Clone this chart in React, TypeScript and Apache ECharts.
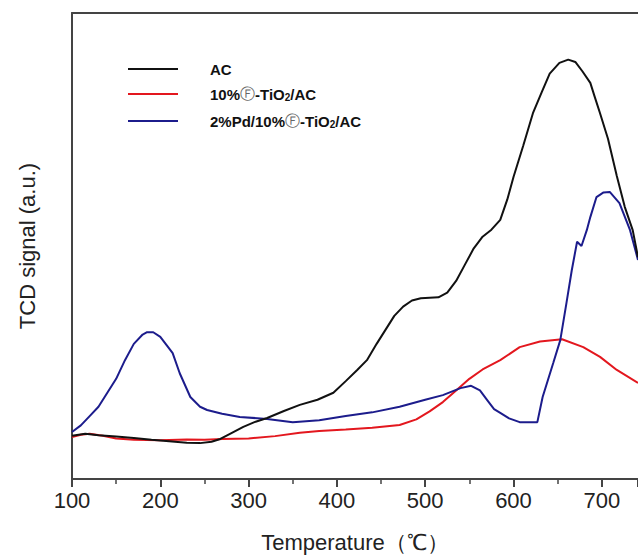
import React, { useEffect, useRef } from "react";
import * as echarts from "echarts";

const xMin = 100;
const xMax = 741;
const xTickStep = 100;

const legendNames = ["AC", "10%Ⓕ-TiO2/AC", "2%Pd/10%Ⓕ-TiO2/AC"];
const seriesColors = ["#111111", "#e3171e", "#1c1c8c"];

const acData: [number, number][] = [
  [100, 9.3], [115, 9.7], [130, 9.4], [150, 9.1], [170, 8.8], [190, 8.4], [210, 8.1], [230, 7.8],
  [245, 7.7], [258, 8.0], [268, 8.6], [280, 9.8], [294, 11.2], [308, 12.3], [321, 13.1], [340, 14.6],
  [358, 15.9], [378, 17.0], [396, 18.5], [410, 21], [423, 23.4], [434, 25.5], [445, 29], [455, 32],
  [465, 35], [475, 37], [485, 38.3], [495, 38.8], [505, 38.9], [515, 39], [525, 40], [535, 42.5],
  [545, 46], [555, 49.5], [565, 52], [575, 53.5], [585, 55.6], [593, 60], [600, 64.8], [611, 71.5],
  [622, 78.5], [632, 83], [641, 87], [652, 89.3], [662, 90], [670, 89.5], [678, 87.5], [687, 85],
  [692, 82], [698, 78.5], [707, 73], [717, 65], [726, 58.4], [735, 53.4], [741, 47.6],
];

const tio2Data: [number, number][] = [
  [100, 9.0], [110, 9.5], [120, 9.7], [135, 9.3], [150, 8.7], [170, 8.4], [200, 8.3], [230, 8.5],
  [250, 8.4], [270, 8.6], [300, 8.7], [330, 9.2], [358, 9.9], [380, 10.3], [410, 10.6], [440, 11.0],
  [471, 11.6], [490, 12.8], [505, 14.5], [520, 16.5], [535, 19], [550, 21.5], [565, 23.5], [585, 25.5],
  [607, 28.3], [630, 29.5], [655, 30], [679, 28.3], [698, 26.2], [717, 23.4], [741, 20.6],
];

const pdData: [number, number][] = [
  [100, 10.1], [110, 11.5], [120, 13.5], [130, 15.5], [140, 18.5], [150, 21.5], [160, 25.5], [170, 29],
  [180, 31], [185, 31.5], [192, 31.5], [200, 30.5], [208, 28.5], [214, 27], [222, 22.7], [234, 17.6],
  [245, 15.5], [253, 14.8], [270, 14], [290, 13.3], [321, 12.9], [350, 12.2], [380, 12.6], [410, 13.5],
  [440, 14.3], [471, 15.5], [500, 17], [520, 18], [540, 19.5], [552, 20], [562, 19], [570, 17],
  [578, 15], [585, 14.2], [595, 13], [607, 12.2], [617, 12.2], [627, 12.2], [633, 17.6], [645, 24.9],
  [653, 29.8], [660, 37.8], [666, 44.8], [672, 50.9], [677, 50], [683, 53.4], [687, 56.2], [694, 60.5],
  [702, 61.5], [709, 61.6], [720, 59.2], [732, 53.4], [741, 47],
];

const allData = [acData, tio2Data, pdData];

function toRich(name: string): string {
  let s = "{a|" + name.replace(/Ⓕ/g, "}{f|Ⓕ}{a|").replace(/TiO2/g, "TiO}{s|2}{a|") + "}";
  s = s.replace(/\{a\|\}/g, "");
  return s;
}

export default function App() {
  const ref = useRef<HTMLDivElement>(null);
  useEffect(() => {
    if (!ref.current) return;
    const chart = echarts.init(ref.current, undefined, { renderer: "svg" });
    const font = "'Liberation Sans', Arial, sans-serif";
    const legendTop = [69, 94, 121];
    const legendGraphics: any[] = [];
    legendNames.forEach((name, i) => {
      legendGraphics.push({
        type: "line",
        shape: { x1: 128, y1: legendTop[i], x2: 178, y2: legendTop[i] },
        style: { stroke: seriesColors[i], lineWidth: 2 },
      });
      legendGraphics.push({
        type: "text",
        x: 210,
        y: legendTop[i],
        style: {
          text: toRich(name),
          verticalAlign: "middle",
          fill: "#111",
          rich: {
            a: { fontFamily: font, fontWeight: "bold", fontSize: 15, fill: "#111" },
            s: { fontFamily: font, fontWeight: "bold", fontSize: 10, fill: "#111", padding: [7, 0, 0, 0] },
            f: { fontFamily: "'DejaVu Sans', sans-serif", fontSize: 15, fill: "#666" },
          },
        },
      });
    });

    chart.setOption({
      animation: false,
      backgroundColor: "#ffffff",
      grid: { left: 72, top: 13, right: 0, bottom: 81, containLabel: false },
      xAxis: [
        {
          type: "value",
          min: xMin,
          max: xMax,
          interval: xTickStep,
          position: "bottom",
          name: "Temperature（℃）",
          nameLocation: "middle",
          nameGap: 52,
          nameTextStyle: { fontFamily: font, fontSize: 22, color: "#222" },
          axisLine: { show: true, onZero: false, lineStyle: { color: "#444", width: 2 } },
          axisTick: { show: true, inside: false, length: 8, lineStyle: { color: "#444", width: 2 } },
          minorTick: { show: true, splitNumber: 2, length: 5, lineStyle: { color: "#444", width: 1.5 } },
          axisLabel: {
            fontFamily: font,
            fontSize: 22,
            color: "#222",
            margin: 10,
            showMaxLabel: false,
            formatter: (v: number) => (v % 100 === 0 ? String(v) : ""),
          },
          splitLine: { show: false },
        },
        {
          type: "value",
          min: xMin,
          max: xMax,
          position: "top",
          axisLine: { show: true, onZero: false, lineStyle: { color: "#444", width: 2 } },
          axisTick: { show: false },
          axisLabel: { show: false },
          splitLine: { show: false },
        },
      ],
      yAxis: {
        type: "value",
        min: 0,
        max: 100,
        name: "TCD signal (a.u.)",
        nameLocation: "middle",
        nameGap: 34,
        nameTextStyle: { fontFamily: font, fontSize: 22, color: "#222" },
        axisLine: { show: true, onZero: false, lineStyle: { color: "#444", width: 2 } },
        axisTick: { show: false },
        axisLabel: { show: false },
        splitLine: { show: false },
      },
      graphic: legendGraphics,
      series: allData.map((d, i) => ({
        type: "line",
        name: legendNames[i],
        data: d,
        symbol: "none",
        lineStyle: { color: seriesColors[i], width: 2 },
        itemStyle: { color: seriesColors[i] },
        z: i === 0 ? 3 : 2,
      })),
    });
    return () => chart.dispose();
  }, []);
  return (
    <div
      ref={ref}
      style={{ position: "fixed", left: 0, top: 0, width: 638, height: 560 }}
    />
  );
}
